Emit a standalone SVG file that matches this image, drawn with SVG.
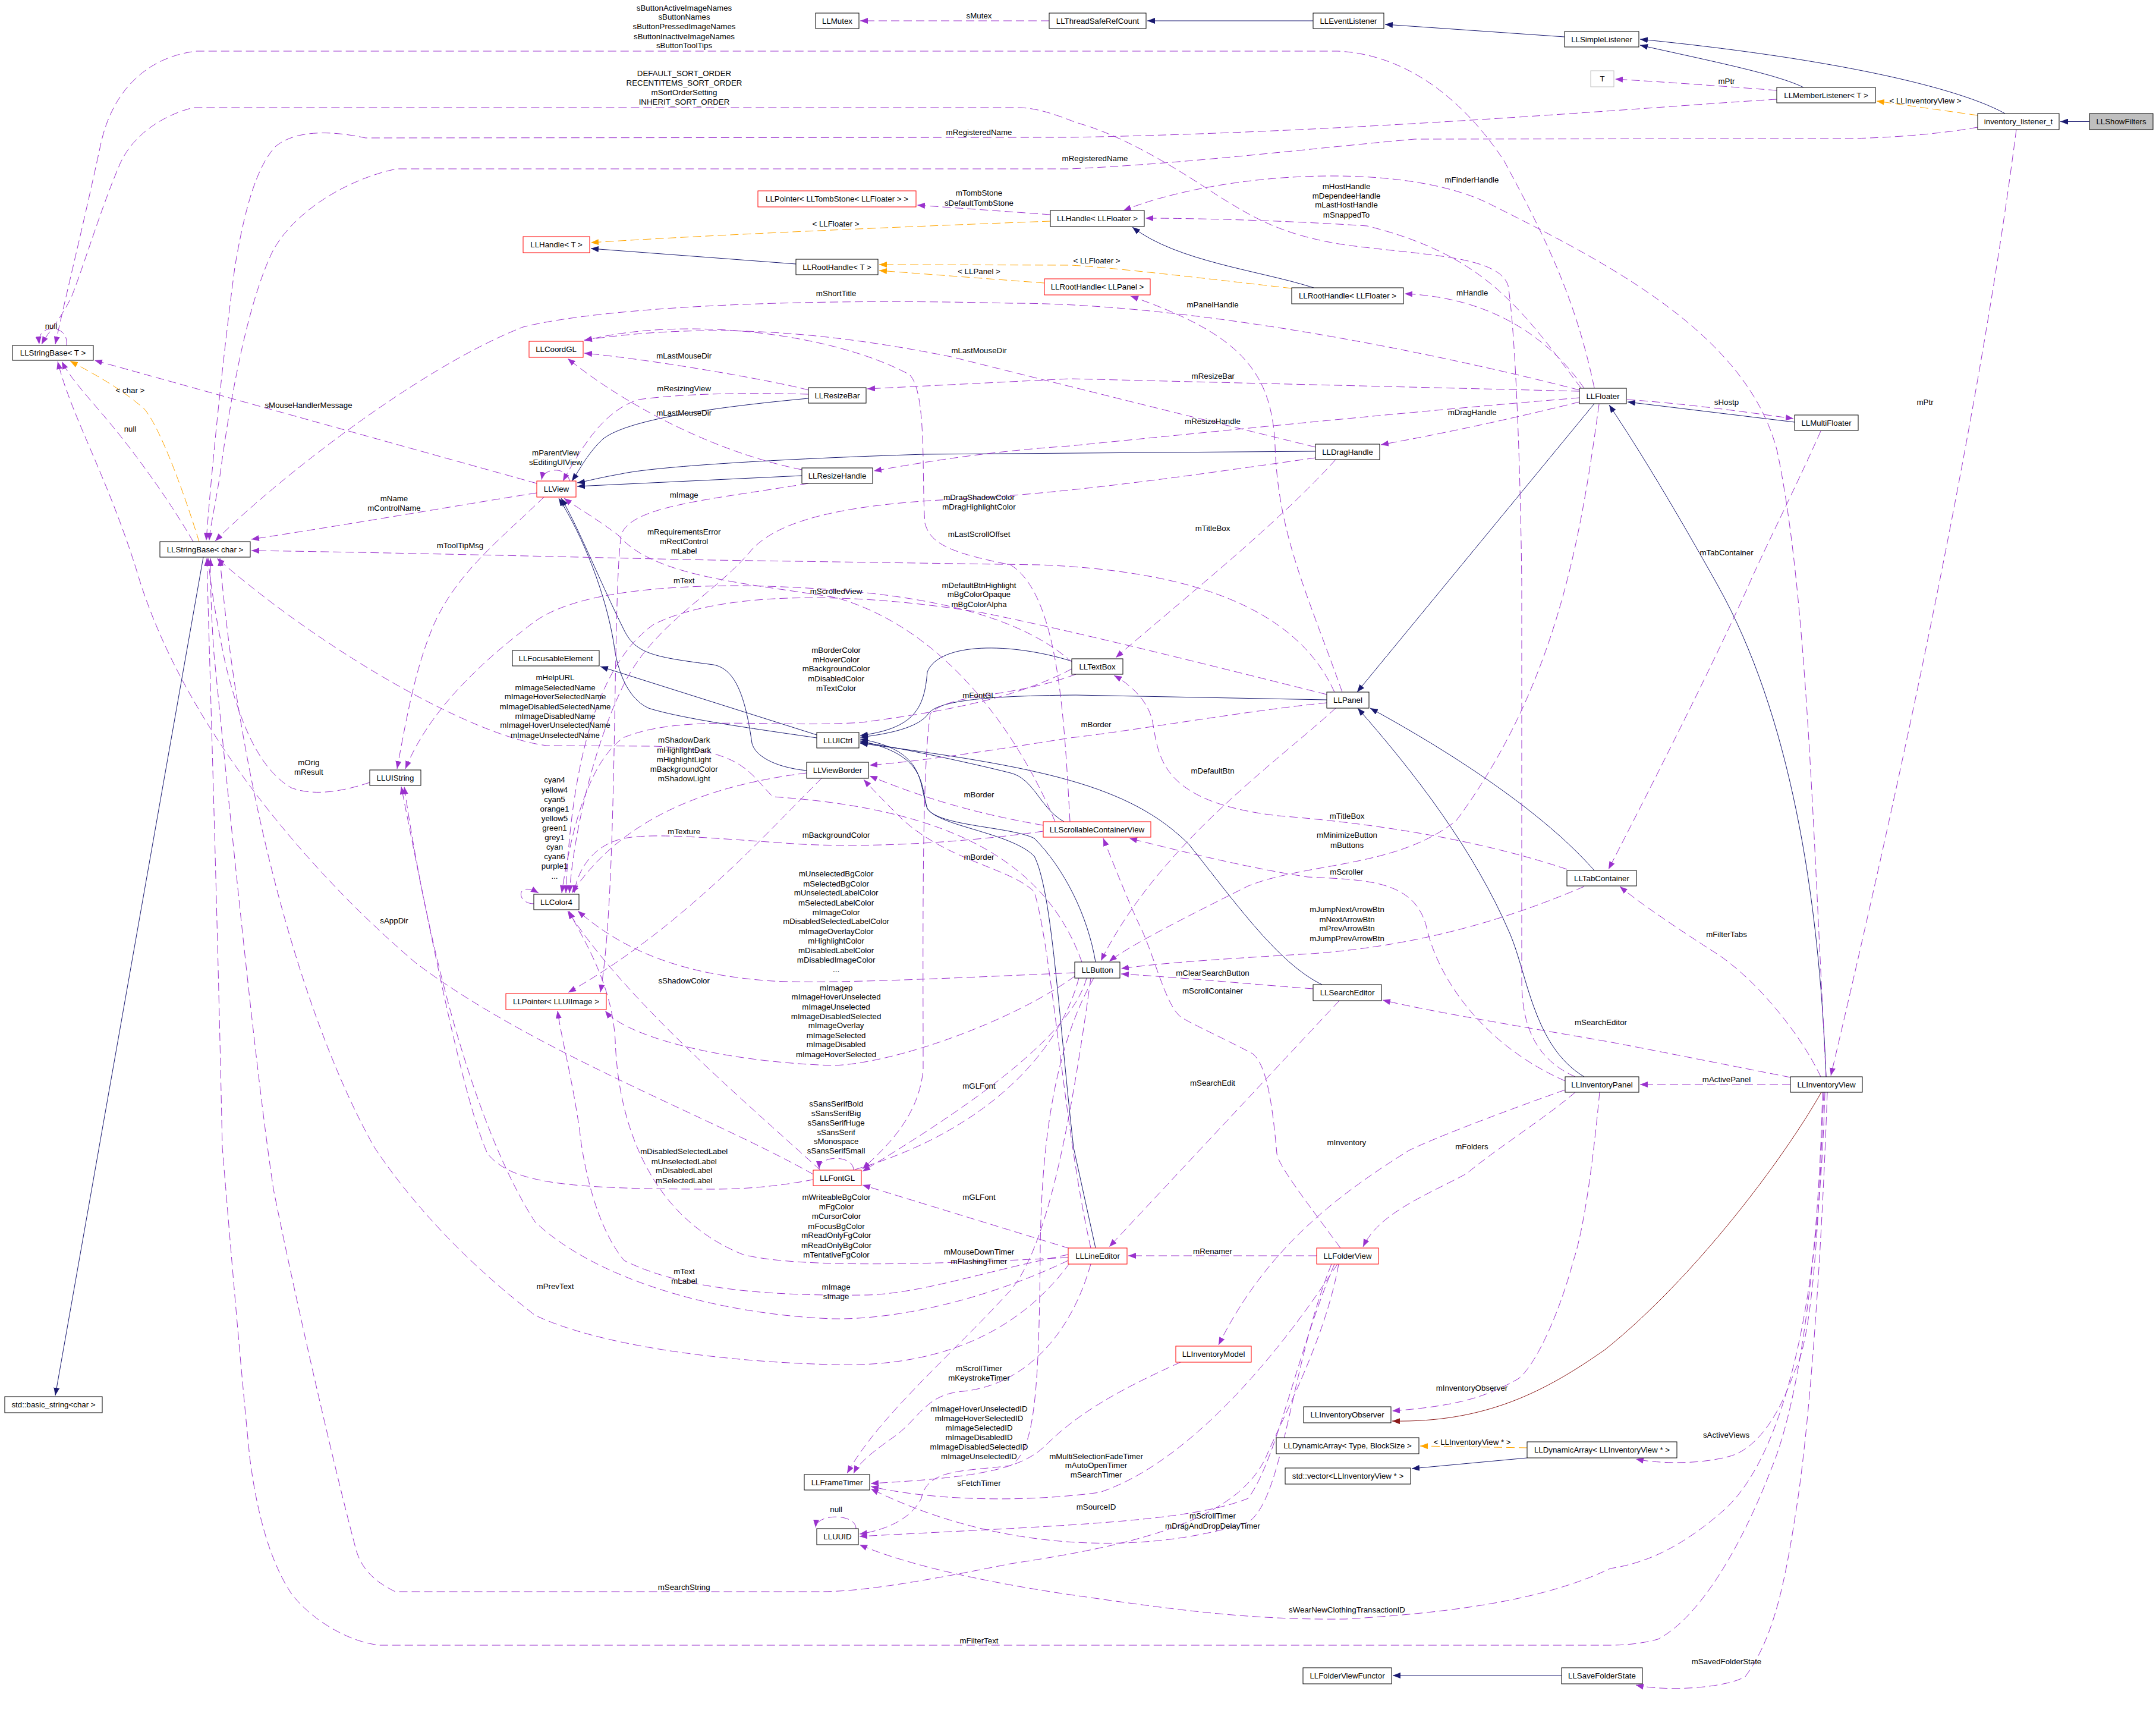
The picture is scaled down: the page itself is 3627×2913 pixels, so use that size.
<svg xmlns="http://www.w3.org/2000/svg" width="3627" height="2913" viewBox="0 0 3627 2913">
<style>
text{font-family:"Liberation Sans",Arial,sans-serif;font-size:13.3px;fill:#000;text-anchor:middle}
.n rect{fill:#fff;stroke:#000;stroke-width:1}
.r rect{stroke:#ff0000}
.g rect{stroke:#bfbfbf}
.s rect{fill:#bfbfbf}
#edges path{fill:none;stroke-width:1}
.i{stroke:#191970;marker-end:url(#mi)}
.p{stroke:#8b1a1a;marker-end:url(#mp)}
.u{stroke:#9a32cd;stroke-dasharray:14 7;marker-end:url(#mu)}
.t{stroke:#ffa500;stroke-dasharray:14 7;marker-end:url(#mt)}
</style>
<defs>
<marker id="mi" viewBox="0 0 10 10" refX="10" refY="5" markerUnits="userSpaceOnUse" markerWidth="13" markerHeight="10" orient="auto" preserveAspectRatio="none"><path d="M0,0 L10,5 L0,10 z" fill="#191970"/></marker>
<marker id="mp" viewBox="0 0 10 10" refX="10" refY="5" markerUnits="userSpaceOnUse" markerWidth="13" markerHeight="10" orient="auto" preserveAspectRatio="none"><path d="M0,0 L10,5 L0,10 z" fill="#8b1a1a"/></marker>
<marker id="mu" viewBox="0 0 10 10" refX="10" refY="5" markerUnits="userSpaceOnUse" markerWidth="13" markerHeight="10" orient="auto" preserveAspectRatio="none"><path d="M0,0 L10,5 L0,10 z" fill="#9a32cd"/></marker>
<marker id="mt" viewBox="0 0 10 10" refX="10" refY="5" markerUnits="userSpaceOnUse" markerWidth="13" markerHeight="10" orient="auto" preserveAspectRatio="none"><path d="M0,0 L10,5 L0,10 z" fill="#ffa500"/></marker>
</defs>
<rect width="3627" height="2913" fill="#fff"/>
<g id="edges">
<path class="i" d="M3515,204.5 L3466,204.5"/>
<path class="i" d="M3373,191 C3300,150 3100,100 2759,66"/>
<path class="i" d="M3034,147 C2990,125 2880,103 2759,76"/>
<path class="i" d="M2632,62 L2330,41"/>
<path class="i" d="M2209,35 L1930,35"/>
<path class="i" d="M1339,444 L994,418"/>
<path class="i" d="M2210,484 C2120,455 1980,440 1905,382"/>
<path class="i" d="M3019,710 L2738,676"/>
<path class="i" d="M3072,1811 C3060,1500 3010,1200 2890,985 C2820,860 2760,760 2707,681"/>
<path class="i" d="M2682,679 L2283,1164"/>
<path class="i" d="M2682,1464 C2600,1370 2450,1270 2305,1191"/>
<path class="i" d="M2665,1811 C2580,1760 2570,1640 2540,1570 C2480,1430 2380,1300 2284,1191"/>
<path class="i" d="M2232,1177 L1810,1169 C1690,1170 1580,1175 1562,1200 C1545,1225 1490,1235 1447,1240"/>
<path class="i" d="M1374,1241 C1300,1230 1150,1210 1091,1191 C1045,1170 1035,1100 1033,1085 C1020,1000 980,900 940,838"/>
<path class="i" d="M1357,1296 C1300,1290 1270,1270 1265,1250 C1255,1180 1240,1125 1200,1118 C1100,1105 1070,1100 1050,1060 C1010,980 970,880 944,838"/>
<path class="i" d="M1374,1236 L1010,1121"/>
<path class="i" d="M1360,670 C1200,685 1060,705 1016,737 C990,760 975,790 962,809"/>
<path class="i" d="M1349,800 L971,818"/>
<path class="i" d="M2213,759 L1556,764 C1300,772 1100,785 1045,797 C1000,805 985,810 971,812"/>
<path class="i" d="M1803,1112 C1700,1080 1580,1080 1560,1130 C1555,1190 1540,1225 1447,1237"/>
<path class="i" d="M1790,1382 C1750,1360 1740,1310 1700,1300 C1620,1280 1500,1255 1447,1248"/>
<path class="i" d="M1843,1618 C1830,1540 1790,1460 1740,1410 C1700,1390 1580,1390 1560,1360 C1548,1320 1560,1270 1447,1246"/>
<path class="i" d="M2224,1656 C2150,1620 2080,1520 2000,1420 C1900,1320 1750,1290 1447,1250"/>
<path class="i" d="M1843,2099 L1806,1930 C1780,1700 1770,1500 1740,1440 C1700,1400 1580,1390 1560,1360 C1545,1320 1560,1262 1447,1243"/>
<path class="i" d="M2569,2452 L2375,2470"/>
<path class="i" d="M2627,2818 L2343,2818"/>
<path class="i" d="M342,937 L93,2347"/>
<path class="p" d="M3064,1837 C3000,1950 2850,2150 2700,2270 C2600,2340 2500,2393 2342,2390"/>
<path class="t" d="M3327,194 L3157,170"/>
<path class="t" d="M1767,372 C1500,382 1200,395 994,408"/>
<path class="t" d="M2173,485 C2000,465 1850,448 1800,446 L1479,445"/>
<path class="t" d="M1757,476 L1479,455"/>
<path class="t" d="M335,911 C310,830 270,720 243,688 C200,650 150,625 118,607"/>
<path class="t" d="M2569,2435 L2389,2432"/>
<path class="u" d="M1765,35 L1447,35"/>
<path class="u" d="M2989,152 C2900,145 2800,138 2717,133"/>
<path class="u" d="M3392,218 C3330,700 3200,1300 3080,1809"/>
<path class="u" d="M2989,167 C2800,178 2300,222 1800,231 L615,232 C560,220 500,218 465,245 C430,280 410,360 395,450 C375,600 355,800 347,909"/>
<path class="u" d="M3327,214 C3250,228 3150,233 3100,233 L2380,234 C2200,250 2000,275 1800,284 L667,284 C590,300 500,350 460,420 C420,500 390,650 370,800 C360,860 353,890 352,909"/>
<path class="u" d="M2682,652 C2650,500 2600,400 2530,270 C2450,150 2350,90 2250,86 L331,86 C250,95 190,150 170,240 C140,380 110,500 93,579"/>
<path class="u" d="M2650,1811 C2580,1780 2560,1720 2560,1650 L2560,980 C2558,800 2550,560 2537,480 C2520,430 2400,430 2264,412 C2150,395 2100,360 2050,330 C1960,270 1880,225 1810,206 C1770,190 1740,181 1712,181 L325,181 C270,195 220,230 200,280 C170,350 140,450 120,500 C100,540 80,560 70,579"/>
<path class="u" d="M1767,361 L1543,345"/>
<path class="u" d="M3072,1811 C3050,1400 3040,1000 2990,760 C2940,560 2700,440 2500,340 C2350,270 2050,290 1890,354"/>
<path class="u" d="M2660,653 C2560,520 2500,430 2300,380 C2150,370 2000,367 1927,367"/>
<path class="u" d="M2665,653 C2600,560 2500,500 2363,494"/>
<path class="u" d="M2258,1164 C2200,1000 2150,900 2145,750 C2140,620 2080,560 1902,498"/>
<path class="u" d="M2657,656 C2400,590 2000,510 1700,510 C1300,500 1000,520 880,550 C700,620 450,820 362,910"/>
<path class="u" d="M2657,658 L1800,637 L1459,654"/>
<path class="u" d="M2657,676 C2560,700 2450,725 2323,748"/>
<path class="u" d="M2657,669 C2400,690 2100,720 1800,750 C1650,760 1540,780 1470,792"/>
<path class="u" d="M2213,752 C2000,700 1800,650 1600,600 C1400,560 1200,540 983,572"/>
<path class="u" d="M1360,656 C1300,640 1100,605 983,594"/>
<path class="u" d="M1360,663 C1250,660 1150,662 1074,672 C1020,690 985,740 947,809"/>
<path class="u" d="M1349,790 C1200,760 1050,680 955,603"/>
<path class="u" d="M958,809 C955,785 915,785 911,807"/>
<path class="u" d="M903,813 L159,606"/>
<path class="u" d="M903,829 C800,845 600,880 423,907"/>
<path class="u" d="M915,836 C850,900 770,960 730,1050 C700,1120 685,1200 668,1293"/>
<path class="u" d="M1360,813 C1200,840 1060,850 1045,900 C1030,1000 1040,1500 1010,1669"/>
<path class="u" d="M2245,1164 C2180,1020 2000,960 1750,950 L1200,942 C1000,938 700,930 423,926"/>
<path class="u" d="M2213,770 C2000,800 1800,830 1600,840 C1400,850 1300,880 1260,930 C1200,1000 1100,1050 1050,1150 C1000,1250 965,1400 958,1502"/>
<path class="u" d="M1800,1382 C1790,1200 1780,1000 1700,950 C1600,930 1565,915 1556,880 C1550,800 1560,660 1530,630 C1400,560 1150,530 983,573"/>
<path class="u" d="M1805,1115 C1700,1020 1500,990 1250,985 C1050,985 950,1010 900,1045 C800,1120 720,1200 682,1293"/>
<path class="u" d="M1775,1382 C1720,1250 1600,1060 1406,1005 C1250,980 1100,970 1040,900 C1000,870 965,850 949,838"/>
<path class="u" d="M2232,1168 C2000,1110 1800,1060 1650,1030 C1400,990 1200,1000 1100,1050 C1000,1120 960,1300 952,1502"/>
<path class="u" d="M1803,1125 C1700,1180 1560,1200 1450,1215 C1300,1225 1150,1200 1050,1240 C990,1280 960,1400 945,1502"/>
<path class="u" d="M1810,1134 C1700,1175 1600,1165 1565,1200 C1550,1300 1553,1600 1553,1800 C1545,1880 1490,1930 1451,1966"/>
<path class="u" d="M2232,1182 C2100,1195 1900,1230 1800,1241 C1650,1265 1550,1280 1463,1287"/>
<path class="u" d="M2247,1191 C2150,1280 1950,1420 1852,1616"/>
<path class="u" d="M1357,1300 C1200,1320 1050,1370 962,1502"/>
<path class="u" d="M898,1520 C868,1520 868,1480 906,1502"/>
<path class="u" d="M1382,1309 C1300,1390 1150,1560 956,1669"/>
<path class="u" d="M1755,1388 C1650,1370 1560,1345 1463,1305"/>
<path class="u" d="M1755,1398 C1600,1420 1450,1425 1350,1420 C1200,1410 1100,1400 1050,1410 C1000,1420 972,1460 966,1502"/>
<path class="u" d="M1835,2099 C1790,1900 1770,1600 1740,1500 C1700,1460 1600,1450 1520,1380 C1490,1350 1470,1330 1453,1311"/>
<path class="u" d="M1808,1636 C1600,1645 1400,1655 1300,1650 C1150,1640 1050,1600 972,1532"/>
<path class="u" d="M1380,1968 C1250,1850 1050,1680 955,1532"/>
<path class="u" d="M1808,1642 C1700,1720 1500,1790 1400,1792 C1200,1785 1050,1740 1018,1700"/>
<path class="u" d="M1828,1645 C1800,1750 1600,1880 1451,1970"/>
<path class="u" d="M1436,1968 C1436,1942 1378,1942 1378,1966"/>
<path class="u" d="M1815,1645 C1760,1850 1500,2000 1200,2000 C950,2000 860,1990 820,1940 C780,1850 730,1600 675,1323"/>
<path class="u" d="M1797,2115 C1600,2125 1350,2135 1250,2110 C1100,2050 1040,1900 1035,1750 C1030,1650 975,1570 957,1532"/>
<path class="u" d="M1800,2100 L1451,1993"/>
<path class="u" d="M1835,1645 C1800,1900 1760,2100 1700,2170 C1600,2280 1480,2380 1425,2478"/>
<path class="u" d="M1835,2126 C1800,2250 1720,2330 1620,2340 C1560,2345 1550,2380 1509,2413 C1470,2440 1445,2460 1436,2478"/>
<path class="u" d="M1797,2120 C1650,2190 1500,2220 1400,2218 C1200,2210 1000,2150 900,2055 C800,1900 720,1600 680,1323"/>
<path class="u" d="M1800,2124 C1700,2260 1550,2300 1400,2295 C1200,2290 1000,2260 900,2212 C780,2120 690,2020 630,1930 C500,1700 400,1300 370,939"/>
<path class="u" d="M1797,2110 C1650,2140 1550,2175 1460,2178 C1300,2180 1150,2170 1050,2120 C1000,2060 980,1950 975,1900 C960,1800 945,1750 938,1700"/>
<path class="u" d="M1840,1645 C1780,1750 1752,1900 1750,2100 C1748,2350 1740,2440 1700,2465 C1620,2475 1560,2470 1550,2520 C1530,2560 1480,2575 1446,2580"/>
<path class="u" d="M1986,2291 C1900,2330 1820,2370 1760,2430 C1720,2470 1650,2485 1465,2495"/>
<path class="u" d="M1440,2571 C1440,2545 1374,2545 1372,2569"/>
<path class="u" d="M2252,2126 C2230,2250 2160,2380 2130,2450 C2080,2560 1900,2600 1700,2630 C1550,2660 1450,2677 1380,2677 L665,2677 C630,2660 610,2640 600,2610 C570,2500 500,2200 460,2000 C430,1800 390,1400 360,1100 C355,1030 354,980 354,939"/>
<path class="u" d="M3066,1837 C3060,2100 3030,2350 2980,2470 C2930,2600 2860,2720 2789,2757 C2760,2765 2730,2767 2709,2767 L638,2767 C580,2760 520,2720 490,2680 C450,2620 430,2530 420,2450 C400,2250 380,2000 374,1930 C365,1500 352,1100 348,939"/>
<path class="u" d="M3070,1837 C3060,2200 3000,2450 2900,2540 C2820,2610 2760,2630 2709,2638 C2600,2690 2450,2712 2264,2723 C2100,2725 1974,2707 1800,2682 C1650,2660 1520,2630 1446,2598"/>
<path class="u" d="M3068,1837 C3060,2050 3050,2250 3019,2306 C2990,2390 2950,2440 2907,2450 C2850,2465 2780,2460 2752,2454"/>
<path class="u" d="M3074,1837 C3065,2100 3045,2400 3020,2550 C3000,2680 2980,2760 2936,2820 C2900,2840 2800,2845 2752,2834"/>
<path class="u" d="M2691,1837 C2685,1900 2670,2050 2647,2120 C2620,2220 2580,2300 2554,2319 C2500,2350 2450,2365 2342,2373"/>
<path class="u" d="M3063,725 C3030,800 2980,900 2948,970 C2900,1080 2800,1280 2706,1462"/>
<path class="u" d="M3063,1811 C3030,1740 2950,1640 2877,1597 C2820,1560 2760,1520 2725,1491"/>
<path class="u" d="M3012,1812 C2900,1790 2750,1760 2700,1751 C2550,1725 2400,1700 2326,1682"/>
<path class="u" d="M3012,1824 L2759,1824"/>
<path class="u" d="M2665,1491 C2550,1540 2400,1590 2206,1604 C2050,1613 1950,1620 1886,1629"/>
<path class="u" d="M2209,1663 C2100,1655 2000,1645 1886,1638"/>
<path class="u" d="M2255,2099 C2200,2024 2150,1960 2148,1940 C2140,1850 2130,1790 2107,1772 C2060,1747 2000,1720 1986,1710 C1960,1690 1940,1600 1916,1554 C1900,1520 1880,1470 1856,1410"/>
<path class="u" d="M2633,1818 C2500,1760 2420,1650 2400,1560 C2380,1480 2300,1480 2200,1475 C2100,1460 1980,1430 1900,1410"/>
<path class="u" d="M2253,1683 L1866,2097"/>
<path class="u" d="M2633,1833 C2500,1880 2400,1920 2370,1935 C2250,2010 2130,2100 2050,2262"/>
<path class="u" d="M2650,1837 C2600,1880 2520,1930 2467,1974 C2400,2010 2320,2040 2293,2097"/>
<path class="u" d="M2215,2112 L1898,2112"/>
<path class="u" d="M2250,2126 C2150,2280 2000,2460 1850,2510 C1700,2530 1550,2520 1465,2500"/>
<path class="u" d="M2245,2126 C2180,2280 2150,2450 2100,2520 C2000,2560 1800,2565 1446,2584"/>
<path class="u" d="M2240,2126 C2170,2300 2160,2520 2100,2560 C1950,2610 1700,2620 1465,2504"/>
<path class="u" d="M1820,1618 C1760,1450 1600,1360 1300,1340 C1260,1300 1250,1260 1100,1255 L920,1254 C800,1240 550,1100 365,939"/>
<path class="u" d="M622,1316 C580,1330 530,1340 490,1325 C430,1290 400,1200 380,1120 C365,1050 355,990 350,939"/>
<path class="u" d="M1368,1975 C1200,1880 900,1770 700,1620 C500,1450 300,1200 230,960 C180,800 120,700 97,608"/>
<path class="u" d="M325,911 C290,850 240,780 200,730 C160,680 120,640 104,608"/>
<path class="u" d="M112,581 C114,560 100,553 88,553 C75,553 64,560 66,579"/>
<path class="u" d="M2737,672 C2850,680 2950,695 3017,704"/>
<path class="u" d="M2247,773 C2150,880 2000,1000 1877,1106"/>
<path class="u" d="M2636,1462 C2450,1400 2250,1380 2150,1372 C1960,1350 1950,1280 1940,1220 C1935,1180 1900,1150 1874,1136"/>
<path class="u" d="M2690,680 C2660,900 2620,1150 2450,1380 C2350,1460 2200,1450 2100,1490 C2000,1540 1900,1590 1866,1617"/>
</g>
<g id="labels">
<text x="1151" y="17.5"><tspan x="1151" y="17.5">sButtonActiveImageNames</tspan><tspan x="1151" y="33">sButtonNames</tspan><tspan x="1151" y="49.4">sButtonPressedImageNames</tspan><tspan x="1151" y="65.6">sButtonInactiveImageNames</tspan><tspan x="1151" y="81.3">sButtonToolTips</tspan></text>
<text x="1647" y="30.6">sMutex</text>
<text x="1151" y="128"><tspan x="1151" y="128">DEFAULT_SORT_ORDER</tspan><tspan x="1151" y="144">RECENTITEMS_SORT_ORDER</tspan><tspan x="1151" y="160">mSortOrderSetting</tspan><tspan x="1151" y="176">INHERIT_SORT_ORDER</tspan></text>
<text x="2904.5" y="141">mPtr</text>
<text x="3239" y="174">&lt; LLInventoryView &gt;</text>
<text x="1647" y="227">mRegisteredName</text>
<text x="1842" y="271">mRegisteredName</text>
<text x="2476" y="307">mFinderHandle</text>
<text x="2265" y="317.5"><tspan x="2265" y="317.5">mHostHandle</tspan><tspan x="2265" y="333.8">mDependeeHandle</tspan><tspan x="2265" y="349.4">mLastHostHandle</tspan><tspan x="2265" y="365.6">mSnappedTo</tspan></text>
<text x="1647" y="329"><tspan x="1647" y="329">mTombStone</tspan><tspan x="1647" y="345.6">sDefaultTombStone</tspan></text>
<text x="1406" y="380.6">&lt; LLFloater &gt;</text>
<text x="1845" y="442.5">&lt; LLFloater &gt;</text>
<text x="1647" y="460.6">&lt; LLPanel &gt;</text>
<text x="2476.7" y="497">mHandle</text>
<text x="1406.6" y="497.5">mShortTitle</text>
<text x="2040" y="517">mPanelHandle</text>
<text x="86" y="552.5">null</text>
<text x="1647" y="594">mLastMouseDir</text>
<text x="1150.7" y="602.5">mLastMouseDir</text>
<text x="2040.8" y="637">mResizeBar</text>
<text x="1150.7" y="657.5">mResizingView</text>
<text x="219" y="661">&lt; char &gt;</text>
<text x="2904.5" y="680.6">sHostp</text>
<text x="3238.6" y="680.6">mPtr</text>
<text x="519" y="686">sMouseHandlerMessage</text>
<text x="2476.7" y="697.5">mDragHandle</text>
<text x="1150.7" y="699">mLastMouseDir</text>
<text x="2040" y="713">mResizeHandle</text>
<text x="219" y="726">null</text>
<text x="934.5" y="765.6"><tspan x="934.5" y="765.6">mParentView</tspan><tspan x="934.5" y="782">sEditingUIView</tspan></text>
<text x="1150.7" y="837">mImage</text>
<text x="1647" y="840.6"><tspan x="1647" y="840.6">mDragShadowColor</tspan><tspan x="1647" y="857">mDragHighlightColor</tspan></text>
<text x="663" y="842.5"><tspan x="663" y="842.5">mName</tspan><tspan x="663" y="858.8">mControlName</tspan></text>
<text x="2040" y="892.5">mTitleBox</text>
<text x="1150.7" y="899"><tspan x="1150.7" y="899">mRequirementsError</tspan><tspan x="1150.7" y="914.5">mRectControl</tspan><tspan x="1150.7" y="930.6">mLabel</tspan></text>
<text x="1647" y="902.5">mLastScrollOffset</text>
<text x="774" y="922">mToolTipMsg</text>
<text x="2904.5" y="934">mTabContainer</text>
<text x="1150.7" y="980.5">mText</text>
<text x="1647" y="988.8"><tspan x="1647" y="988.8">mDefaultBtnHighlight</tspan><tspan x="1647" y="1004.4">mBgColorOpaque</tspan><tspan x="1647" y="1020.6">mBgColorAlpha</tspan></text>
<text x="1406.6" y="998.8">mScrolledView</text>
<text x="1406.6" y="1097.5"><tspan x="1406.6" y="1097.5">mBorderColor</tspan><tspan x="1406.6" y="1113.8">mHoverColor</tspan><tspan x="1406.6" y="1129.4">mBackgroundColor</tspan><tspan x="1406.6" y="1145.6">mDisabledColor</tspan><tspan x="1406.6" y="1161.9">mTextColor</tspan></text>
<text x="934" y="1144.4"><tspan x="934" y="1144.4">mHelpURL</tspan><tspan x="934" y="1160.6">mImageSelectedName</tspan><tspan x="934" y="1176">mImageHoverSelectedName</tspan><tspan x="934" y="1192.5">mImageDisabledSelectedName</tspan><tspan x="934" y="1208.8">mImageDisabledName</tspan><tspan x="934" y="1224.4">mImageHoverUnselectedName</tspan><tspan x="934" y="1240.6">mImageUnselectedName</tspan></text>
<text x="1647" y="1174.4">mFontGL</text>
<text x="1844" y="1222.5">mBorder</text>
<text x="1150.7" y="1249.4"><tspan x="1150.7" y="1249.4">mShadowDark</tspan><tspan x="1150.7" y="1265.6">mHighlightDark</tspan><tspan x="1150.7" y="1281.9">mHighlightLight</tspan><tspan x="1150.7" y="1297.5">mBackgroundColor</tspan><tspan x="1150.7" y="1313.8">mShadowLight</tspan></text>
<text x="519.4" y="1287"><tspan x="519.4" y="1287">mOrig</tspan><tspan x="519.4" y="1302.5">mResult</tspan></text>
<text x="2040" y="1300.6">mDefaultBtn</text>
<text x="933" y="1316"><tspan x="933" y="1316">cyan4</tspan><tspan x="933" y="1332.5">yellow4</tspan><tspan x="933" y="1349">cyan5</tspan><tspan x="933" y="1365">orange1</tspan><tspan x="933" y="1380.6">yellow5</tspan><tspan x="933" y="1397">green1</tspan><tspan x="933" y="1413">grey1</tspan><tspan x="933" y="1428.8">cyan</tspan><tspan x="933" y="1445">cyan6</tspan><tspan x="933" y="1460.6">purple1</tspan><tspan x="933" y="1477.5">...</tspan></text>
<text x="1647" y="1341">mBorder</text>
<text x="2266" y="1377">mTitleBox</text>
<text x="1150.7" y="1402.5">mTexture</text>
<text x="1406.6" y="1408.8">mBackgroundColor</text>
<text x="2266" y="1409.4"><tspan x="2266" y="1409.4">mMinimizeButton</tspan><tspan x="2266" y="1425.6">mButtons</tspan></text>
<text x="1647" y="1446">mBorder</text>
<text x="2265.4" y="1470.6">mScroller</text>
<text x="1406.6" y="1474.4"><tspan x="1406.6" y="1474.4">mUnselectedBgColor</tspan><tspan x="1406.6" y="1490.6">mSelectedBgColor</tspan><tspan x="1406.6" y="1506.3">mUnselectedLabelColor</tspan><tspan x="1406.6" y="1522.5">mSelectedLabelColor</tspan><tspan x="1406.6" y="1538.8">mImageColor</tspan><tspan x="1406.6" y="1554.4">mDisabledSelectedLabelColor</tspan><tspan x="1406.6" y="1570.6">mImageOverlayColor</tspan><tspan x="1406.6" y="1586.9">mHighlightColor</tspan><tspan x="1406.6" y="1602.5">mDisabledLabelColor</tspan><tspan x="1406.6" y="1618.8">mDisabledImageColor</tspan><tspan x="1406.6" y="1635">...</tspan></text>
<text x="2266" y="1534.4"><tspan x="2266" y="1534.4">mJumpNextArrowBtn</tspan><tspan x="2266" y="1550.6">mNextArrowBtn</tspan><tspan x="2266" y="1566.3">mPrevArrowBtn</tspan><tspan x="2266" y="1582.5">mJumpPrevArrowBtn</tspan></text>
<text x="663" y="1553">sAppDir</text>
<text x="2904.5" y="1576">mFilterTabs</text>
<text x="2040" y="1640.6">mClearSearchButton</text>
<text x="1150.7" y="1654.4">sShadowColor</text>
<text x="1406.6" y="1665.6"><tspan x="1406.6" y="1665.6">mImagep</tspan><tspan x="1406.6" y="1681.3">mImageHoverUnselected</tspan><tspan x="1406.6" y="1697.5">mImageUnselected</tspan><tspan x="1406.6" y="1713.8">mImageDisabledSelected</tspan><tspan x="1406.6" y="1729.4">mImageOverlay</tspan><tspan x="1406.6" y="1745.6">mImageSelected</tspan><tspan x="1406.6" y="1761.3">mImageDisabled</tspan><tspan x="1406.6" y="1777.5">mImageHoverSelected</tspan></text>
<text x="2040" y="1670.6">mScrollContainer</text>
<text x="2693" y="1724.4">mSearchEditor</text>
<text x="2904.5" y="1820">mActivePanel</text>
<text x="2040" y="1826">mSearchEdit</text>
<text x="1647" y="1830.6">mGLFont</text>
<text x="1406.6" y="1860.6"><tspan x="1406.6" y="1860.6">sSansSerifBold</tspan><tspan x="1406.6" y="1876.9">sSansSerifBig</tspan><tspan x="1406.6" y="1892.5">sSansSerifHuge</tspan><tspan x="1406.6" y="1908.8">sSansSerif</tspan><tspan x="1406.6" y="1924.4">sMonospace</tspan><tspan x="1406.6" y="1940.3">sSansSerifSmall</tspan></text>
<text x="2265.4" y="1925.6">mInventory</text>
<text x="2476" y="1932.5">mFolders</text>
<text x="1150.7" y="1941"><tspan x="1150.7" y="1941">mDisabledSelectedLabel</tspan><tspan x="1150.7" y="1957.6">mUnselectedLabel</tspan><tspan x="1150.7" y="1973.2">mDisabledLabel</tspan><tspan x="1150.7" y="1989.5">mSelectedLabel</tspan></text>
<text x="1407" y="2018.4"><tspan x="1407" y="2018.4">mWriteableBgColor</tspan><tspan x="1407" y="2034">mFgColor</tspan><tspan x="1407" y="2050.4">mCursorColor</tspan><tspan x="1407" y="2066.7">mFocusBgColor</tspan><tspan x="1407" y="2082.3">mReadOnlyFgColor</tspan><tspan x="1407" y="2098.6">mReadOnlyBgColor</tspan><tspan x="1407" y="2115">mTentativeFgColor</tspan></text>
<text x="1647" y="2017.8">mGLFont</text>
<text x="2040" y="2108.7">mRenamer</text>
<text x="1647" y="2110"><tspan x="1647" y="2110">mMouseDownTimer</tspan><tspan x="1647" y="2125.6">mFlashingTimer</tspan></text>
<text x="1151" y="2142.5"><tspan x="1151" y="2142.5">mText</tspan><tspan x="1151" y="2158.8">mLabel</tspan></text>
<text x="934" y="2168">mPrevText</text>
<text x="1406.6" y="2168.8"><tspan x="1406.6" y="2168.8">mImage</tspan><tspan x="1406.6" y="2184.5">sImage</tspan></text>
<text x="1647" y="2305.5"><tspan x="1647" y="2305.5">mScrollTimer</tspan><tspan x="1647" y="2321.8">mKeystrokeTimer</tspan></text>
<text x="2476" y="2338.7">mInventoryObserver</text>
<text x="1647" y="2373.8"><tspan x="1647" y="2373.8">mImageHoverUnselectedID</tspan><tspan x="1647" y="2389.5">mImageHoverSelectedID</tspan><tspan x="1647" y="2405.8">mImageSelectedID</tspan><tspan x="1647" y="2421.5">mImageDisabledID</tspan><tspan x="1647" y="2437.8">mImageDisabledSelectedID</tspan><tspan x="1647" y="2453.5">mImageUnselectedID</tspan></text>
<text x="2904" y="2418.4">sActiveViews</text>
<text x="2476.7" y="2429.6">&lt; LLInventoryView * &gt;</text>
<text x="1844" y="2453.5"><tspan x="1844" y="2453.5">mMultiSelectionFadeTimer</tspan><tspan x="1844" y="2469.3">mAutoOpenTimer</tspan><tspan x="1844" y="2485.4">mSearchTimer</tspan></text>
<text x="1647" y="2498.6">sFetchTimer</text>
<text x="1844" y="2538.7">mSourceID</text>
<text x="1406.6" y="2542.5">null</text>
<text x="2040" y="2554.4"><tspan x="2040" y="2554.4">mScrollTimer</tspan><tspan x="2040" y="2570.7">mDragAndDropDelayTimer</tspan></text>
<text x="1150.7" y="2673.5">mSearchString</text>
<text x="2266" y="2712.4">sWearNewClothingTransactionID</text>
<text x="1647" y="2764.4">mFilterText</text>
<text x="2904.5" y="2799">mSavedFolderState</text>
</g>
<g id="n_LLStringBase_T" class="n"><rect x="21" y="581" width="136" height="25"/><text x="89" y="598.2">LLStringBase&lt; T &gt;</text></g>
<g id="n_LLStringBase_char" class="n"><rect x="269" y="911" width="152" height="26"/><text x="345" y="928.7">LLStringBase&lt; char &gt;</text></g>
<g id="n_std_basic_string" class="n"><rect x="8" y="2349" width="164" height="27"/><text x="90" y="2367.2">std::basic_string&lt;char &gt;</text></g>
<g id="n_LLMutex" class="n"><rect x="1372" y="22" width="73" height="26"/><text x="1408.5" y="39.7">LLMutex</text></g>
<g id="n_LLThreadSafeRefCount" class="n"><rect x="1765" y="22" width="163" height="26"/><text x="1846.5" y="39.7">LLThreadSafeRefCount</text></g>
<g id="n_LLEventListener" class="n"><rect x="2209" y="22" width="119" height="26"/><text x="2268.5" y="39.7">LLEventListener</text></g>
<g id="n_LLSimpleListener" class="n"><rect x="2632" y="53" width="125" height="26"/><text x="2694.5" y="70.7">LLSimpleListener</text></g>
<g id="n_T" class="n g"><rect x="2676" y="119" width="39" height="27"/><text x="2695.5" y="137.2">T</text></g>
<g id="n_LLMemberListener" class="n"><rect x="2989" y="147" width="166" height="26"/><text x="3072" y="164.7">LLMemberListener&lt; T &gt;</text></g>
<g id="n_inventory_listener_t" class="n"><rect x="3327" y="191" width="137" height="27"/><text x="3395.5" y="209.2">inventory_listener_t</text></g>
<g id="n_LLShowFilters" class="n s"><rect x="3515" y="191" width="107" height="27"/><text x="3568.5" y="209.2">LLShowFilters</text></g>
<g id="n_LLPointer_TombStone" class="n r"><rect x="1275" y="321" width="266" height="27"/><text x="1408" y="339.2">LLPointer&lt; LLTombStone&lt; LLFloater &gt; &gt;</text></g>
<g id="n_LLHandle_LLFloater" class="n"><rect x="1767" y="354" width="158" height="27"/><text x="1846" y="372.2">LLHandle&lt; LLFloater &gt;</text></g>
<g id="n_LLHandle_T" class="n r"><rect x="880" y="398" width="112" height="27"/><text x="936" y="416.2">LLHandle&lt; T &gt;</text></g>
<g id="n_LLRootHandle_T" class="n"><rect x="1339" y="436" width="138" height="26"/><text x="1408" y="453.7">LLRootHandle&lt; T &gt;</text></g>
<g id="n_LLRootHandle_LLPanel" class="n r"><rect x="1757" y="469" width="178" height="27"/><text x="1846" y="487.2">LLRootHandle&lt; LLPanel &gt;</text></g>
<g id="n_LLRootHandle_LLFloater" class="n"><rect x="2173" y="484" width="188" height="27"/><text x="2267" y="502.2">LLRootHandle&lt; LLFloater &gt;</text></g>
<g id="n_LLCoordGL" class="n r"><rect x="890" y="574" width="91" height="27"/><text x="935.5" y="592.2">LLCoordGL</text></g>
<g id="n_LLResizeBar" class="n"><rect x="1360" y="652" width="97" height="26"/><text x="1408.5" y="669.7">LLResizeBar</text></g>
<g id="n_LLFloater" class="n"><rect x="2657" y="653" width="79" height="26"/><text x="2696.5" y="670.7">LLFloater</text></g>
<g id="n_LLMultiFloater" class="n"><rect x="3019" y="698" width="107" height="26"/><text x="3072.5" y="715.7">LLMultiFloater</text></g>
<g id="n_LLDragHandle" class="n"><rect x="2213" y="747" width="108" height="26"/><text x="2267" y="764.7">LLDragHandle</text></g>
<g id="n_LLResizeHandle" class="n"><rect x="1349" y="787" width="119" height="26"/><text x="1408.5" y="804.7">LLResizeHandle</text></g>
<g id="n_LLView" class="n r"><rect x="903" y="809" width="66" height="27"/><text x="936" y="827.2">LLView</text></g>
<g id="n_LLFocusableElement" class="n"><rect x="862" y="1094" width="146" height="26"/><text x="935" y="1111.7">LLFocusableElement</text></g>
<g id="n_LLTextBox" class="n"><rect x="1803" y="1108" width="86" height="26"/><text x="1846" y="1125.7">LLTextBox</text></g>
<g id="n_LLPanel" class="n"><rect x="2232" y="1164" width="71" height="27"/><text x="2267.5" y="1182.2">LLPanel</text></g>
<g id="n_LLUICtrl" class="n"><rect x="1374" y="1232" width="71" height="26"/><text x="1409.5" y="1249.7">LLUICtrl</text></g>
<g id="n_LLViewBorder" class="n"><rect x="1357" y="1282" width="104" height="27"/><text x="1409" y="1300.2">LLViewBorder</text></g>
<g id="n_LLUIString" class="n"><rect x="622" y="1295" width="86" height="26"/><text x="665" y="1312.7">LLUIString</text></g>
<g id="n_LLScrollableContainerView" class="n r"><rect x="1755" y="1382" width="181" height="26"/><text x="1845.5" y="1399.7">LLScrollableContainerView</text></g>
<g id="n_LLTabContainer" class="n"><rect x="2636" y="1464" width="117" height="26"/><text x="2694.5" y="1481.7">LLTabContainer</text></g>
<g id="n_LLColor4" class="n"><rect x="898" y="1504" width="76" height="26"/><text x="936" y="1521.7">LLColor4</text></g>
<g id="n_LLButton" class="n"><rect x="1808" y="1618" width="76" height="27"/><text x="1846" y="1636.2">LLButton</text></g>
<g id="n_LLSearchEditor" class="n"><rect x="2209" y="1656" width="115" height="27"/><text x="2266.5" y="1674.2">LLSearchEditor</text></g>
<g id="n_LLPointer_LLUIImage" class="n r"><rect x="851" y="1671" width="169" height="27"/><text x="935.5" y="1689.2">LLPointer&lt; LLUIImage &gt;</text></g>
<g id="n_LLInventoryPanel" class="n"><rect x="2633" y="1811" width="124" height="26"/><text x="2695" y="1828.7">LLInventoryPanel</text></g>
<g id="n_LLInventoryView" class="n"><rect x="3012" y="1811" width="121" height="26"/><text x="3072.5" y="1828.7">LLInventoryView</text></g>
<g id="n_LLFontGL" class="n r"><rect x="1368" y="1968" width="81" height="26"/><text x="1408.5" y="1985.7">LLFontGL</text></g>
<g id="n_LLLineEditor" class="n r"><rect x="1797" y="2099" width="99" height="27"/><text x="1846.5" y="2117.2">LLLineEditor</text></g>
<g id="n_LLFolderView" class="n r"><rect x="2215" y="2099" width="104" height="27"/><text x="2267" y="2117.2">LLFolderView</text></g>
<g id="n_LLInventoryModel" class="n r"><rect x="1978" y="2264" width="127" height="27"/><text x="2041.5" y="2282.2">LLInventoryModel</text></g>
<g id="n_LLInventoryObserver" class="n"><rect x="2193" y="2366" width="147" height="27"/><text x="2266.5" y="2384.2">LLInventoryObserver</text></g>
<g id="n_LLDynamicArray_Type" class="n"><rect x="2147" y="2418" width="240" height="27"/><text x="2267" y="2436.2">LLDynamicArray&lt; Type, BlockSize &gt;</text></g>
<g id="n_LLDynamicArray_LLInventoryView" class="n"><rect x="2569" y="2425" width="252" height="27"/><text x="2695" y="2443.2">LLDynamicArray&lt; LLInventoryView * &gt;</text></g>
<g id="n_std_vector" class="n"><rect x="2162" y="2469" width="211" height="27"/><text x="2267.5" y="2487.2">std::vector&lt;LLInventoryView * &gt;</text></g>
<g id="n_LLFrameTimer" class="n"><rect x="1353" y="2480" width="110" height="26"/><text x="1408" y="2497.7">LLFrameTimer</text></g>
<g id="n_LLUUID" class="n"><rect x="1374" y="2571" width="70" height="27"/><text x="1409" y="2589.2">LLUUID</text></g>
<g id="n_LLFolderViewFunctor" class="n"><rect x="2192" y="2805" width="149" height="27"/><text x="2266.5" y="2823.2">LLFolderViewFunctor</text></g>
<g id="n_LLSaveFolderState" class="n"><rect x="2627" y="2805" width="136" height="27"/><text x="2695" y="2823.2">LLSaveFolderState</text></g>
</svg>
